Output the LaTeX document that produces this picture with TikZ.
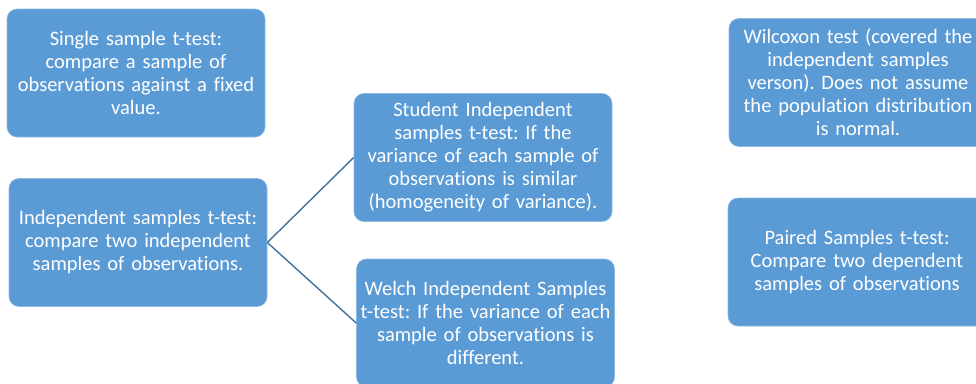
\documentclass[tikz,border=0pt]{standalone}
\usepackage{fontspec}
\setmainfont{Carlito}[Ligatures=NoCommon]
\usetikzlibrary{positioning}

\definecolor{testblue}{RGB}{91,155,213}
\definecolor{linkblue}{RGB}{65,113,156}

\begin{document}
\frenchspacing
\begin{tikzpicture}[x=1pt, y=-1pt,
		testbox/.style={fill=testblue, draw=testblue!70!white, line width=0.6pt, rounded corners=10pt,
			minimum width=258pt, minimum height=128pt, text width=256pt, align=center,
			text=white, font=\fontsize{20.5}{23}\selectfont, inner sep=0pt},
		branch/.style={draw=linkblue, line width=1.4pt}]
		% Fix the page to the full canvas
		\useasboundingbox (0,0) rectangle (976,383);
		\clip (0,0) rectangle (976,383);

		% Draw the tests on the left
		\node[testbox] (single) at (136,73) {Single sample t-test:\\ compare a sample of\\ observations against a fixed\\ value.};
		\node[testbox] (indep) at (138,242.5) {Independent samples t-test:\\ compare two independent\\ samples of observations.};

		% Draw the two independent samples variants
		\node[testbox] (student) at (483,157.5) {Student Independent\\ samples t-test: If the\\ variance of each sample of\\ observations is similar\\ (homogeneity of variance).};
		\node[testbox] (welch) at (485.5,323) {Welch Independent Samples\\ t-test: If the variance of each\\ sample of observations is\\ different.};

		% Draw the tests on the right
		\node[testbox] (wilcoxon) at (858,82.5) {Wilcoxon test (covered the\\ independent samples\\ verson). Does not assume\\ the population distribution\\ is normal.};
		\node[testbox] (paired) at (857,262) {Paired Samples t-test:\\ Compare two dependent\\ samples of observations};

		% Draw the branches
		\draw[branch] (indep.east) -- (student.west);
		\draw[branch] (indep.east) -- (welch.west);

	\end{tikzpicture}
\end{document}
